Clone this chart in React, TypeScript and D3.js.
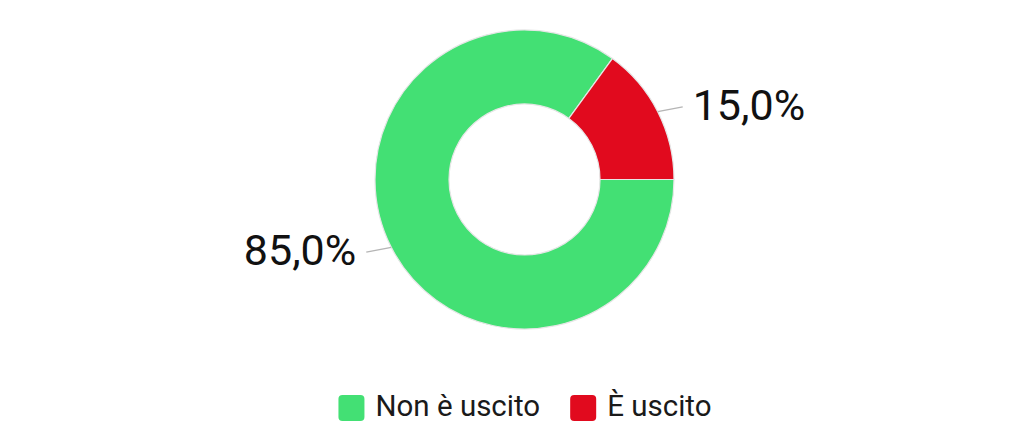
import React, { useEffect, useRef } from "react";
import * as d3 from "d3";

const categories = ["Non è uscito", "È uscito"];
const values = [85.0, 15.0];
const colors = ["#43E074", "#E10A1E"];
const labels = ["85,0%", "15,0%"];

const W = 1024;
const H = 440;
const FONT = "Roboto, 'Open Sans', sans-serif";

export default function App() {
  const ref = useRef<SVGSVGElement | null>(null);

  useEffect(() => {
    const svg = d3.select(ref.current);
    svg.selectAll("*").remove();

    const cx = 524.5;
    const cy = 179.5;
    const R = 149.5;
    const r = 75.5;

    const pie = d3
      .pie<number>()
      .sort(null)
      .value((d) => d)
      .startAngle(Math.PI / 2)
      .endAngle(Math.PI / 2 + 2 * Math.PI);
    const arcs = pie(values);
    const arc = d3.arc<d3.PieArcDatum<number>>().innerRadius(r).outerRadius(R);

    const g = svg.append("g").attr("transform", `translate(${cx},${cy})`);
    g.selectAll("path.slice")
      .data(arcs)
      .enter()
      .append("path")
      .attr("class", "slice")
      .attr("d", arc)
      .attr("fill", (_d, i) => colors[i])
      .attr("stroke", "#e6e6e6")
      .attr("stroke-width", 1.2);

    // labels with connectors
    arcs.forEach((a, i) => {
      const mid = (a.startAngle + a.endAngle) / 2;
      const x1 = Math.sin(mid) * R;
      const y1 = -Math.cos(mid) * R;
      const side = x1 >= 0 ? 1 : -1;
      const x2 = x1 + side * 25;
      const y2 = y1 + y1 * 0.07;
      g.append("path")
        .attr("d", `M${x1},${y1}L${x2},${y2}`)
        .attr("stroke", "#b5b5b5")
        .attr("stroke-width", 1.5)
        .attr("fill", "none");
      g.append("text")
        .attr("x", x2 + side * 10)
        .attr("y", y2 + 13)
        .attr("text-anchor", side > 0 ? "start" : "end")
        .attr("font-family", FONT)
        .attr("font-size", 43)
        .attr("fill", "#111")
        .text(labels[i]);
    });

    // legend
    const lg = svg.append("g");
    const sq = 26;
    const gapText = 11;
    const gapItem = 30;
    const items = categories.map((c, i) => {
      const it = lg.append("g");
      it.append("rect")
        .attr("width", sq)
        .attr("height", sq)
        .attr("rx", 4)
        .attr("fill", colors[i]);
      const t = it
        .append("text")
        .attr("x", sq + gapText)
        .attr("y", 21)
        .attr("font-family", FONT)
        .attr("font-size", 29.5)
        .attr("fill", "#1a1a1a")
        .text(c);
      const tw = (t.node() as SVGTextElement).getComputedTextLength();
      return { it, w: sq + gapText + tw };
    });
    const total = items.reduce((s, d) => s + d.w, 0) + gapItem * (items.length - 1);
    let x = 525 - total / 2;
    items.forEach((d) => {
      d.it.attr("transform", `translate(${x},395)`);
      x += d.w + gapItem;
    });
  }, []);

  return (
    <svg
      ref={ref}
      width={W}
      height={H}
      style={{ position: "absolute", left: 0, top: 0, background: "#fff" }}
    />
  );
}
